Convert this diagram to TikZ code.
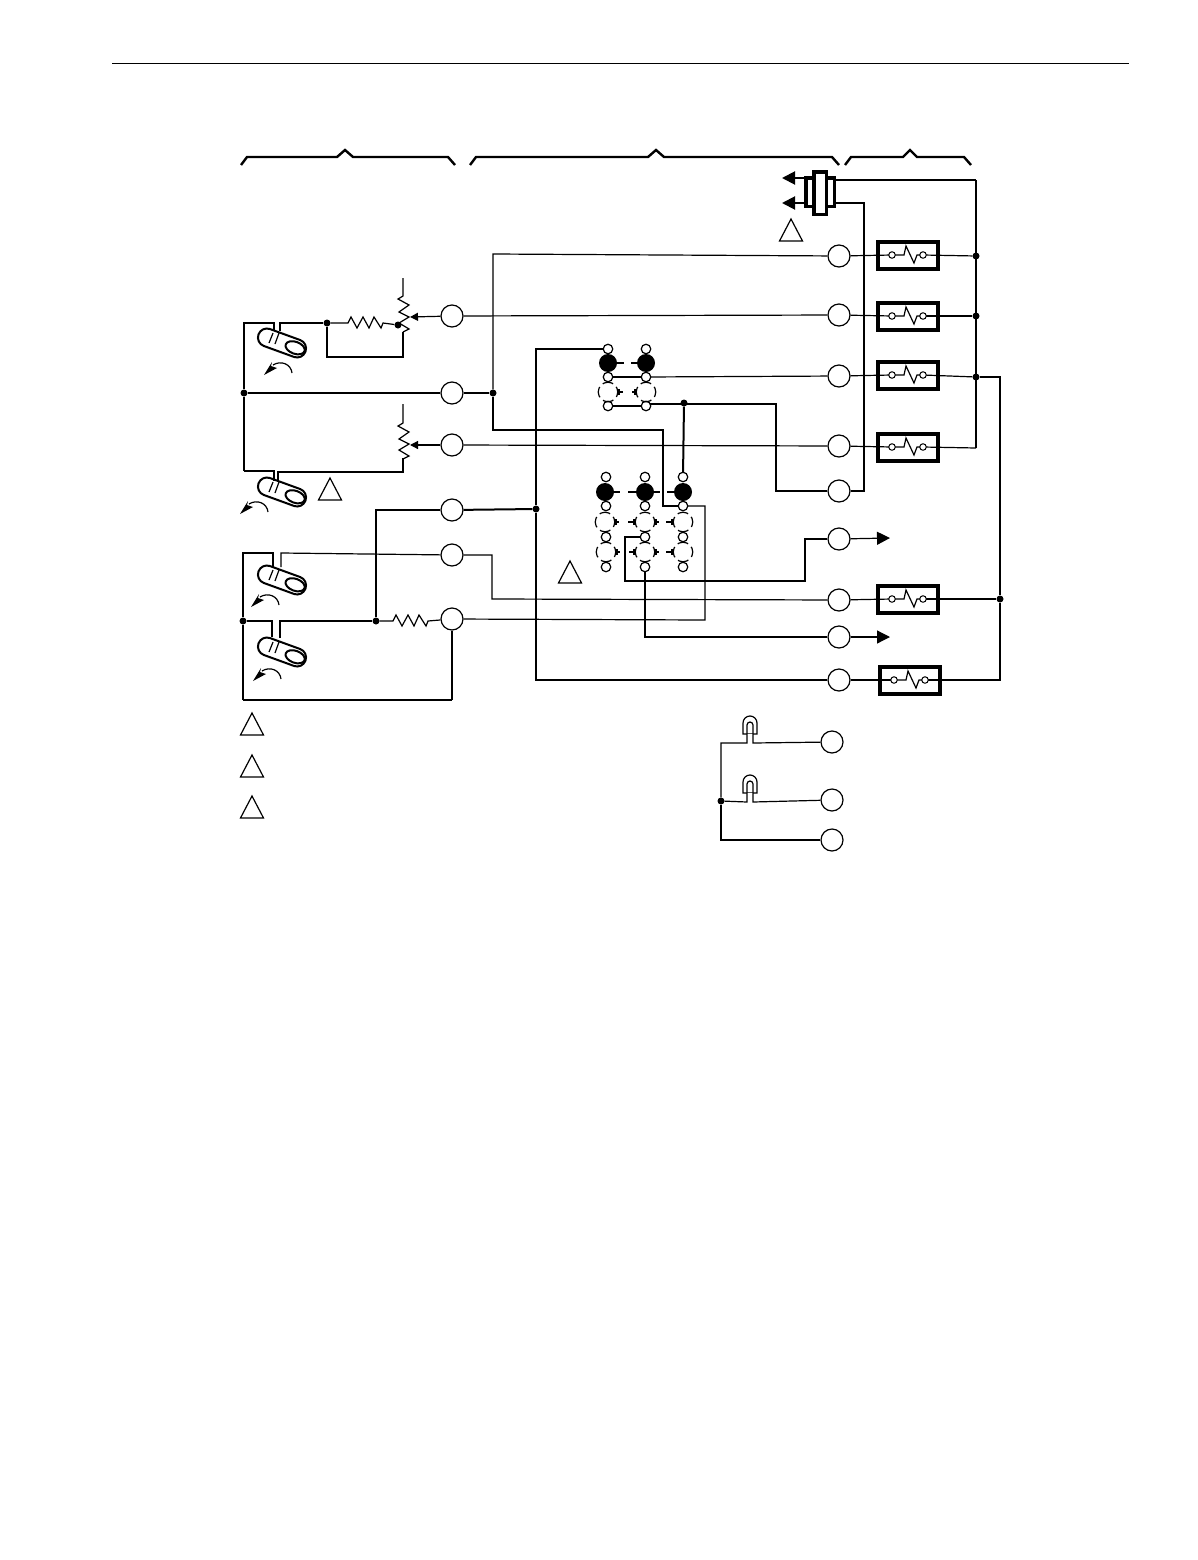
\documentclass[tikz,border=0pt]{standalone}
\usepackage{tikz}
\usetikzlibrary{arrows.meta, positioning}
\tikzset{>={Triangle[length=13pt,width=13pt]}}
\tikzset{
  wire/.style={line width=1.2pt},
  hvy/.style={line width=2pt},
  term/.style={draw, circle, fill=white, line width=1.2pt, minimum size=22pt, inner sep=0pt},
  dotj/.style={fill=black, circle, minimum size=7pt, inner sep=0pt},
  fuse/.style={draw, line width=4pt, minimum width=60pt, minimum height=27pt, inner sep=0pt},
  pin/.style={draw, circle, fill=white, line width=1pt, minimum size=6.5pt, inner sep=0pt},
  small/.style={draw, circle, fill=white, line width=1.2pt, minimum size=9.5pt, inner sep=0pt},
  big/.style={fill=black, circle, minimum size=18pt, inner sep=0pt},
  open/.style={draw, circle, line width=1.2pt, minimum size=19.5pt, inner sep=0pt, dash pattern=on 11pt off 4.3pt, dash phase=5.5pt},
  stub/.style={{Bar[width=6pt,length=1pt]}-, line width=2pt},
  stubthin/.style={{Bar[width=6pt,length=1pt]}-, line width=1.2pt},
  capsule/.pic={
    \draw [line width=2pt, rotate=-20, rounded corners=8.9pt] (-25,-9) rectangle (25,9);
    \draw [line width=2pt, rotate=-20] (14,0) ellipse (10 and 6);
    \draw [line width=1.2pt] (-13,0) -- (-9,-10);
    \draw [line width=1.2pt] (-7,1) -- (-3,-10);
  },
  turn/.pic={
    \fill (0,0) -- (8,-13) -- (7,-9) -- (13,-7) -- cycle;
    \draw [line width=1.2pt] (28,-2) .. controls (27,-11) and (17,-15) .. (9,-10);
  },
  warn/.pic={
    \draw [line width=1.2pt, line join=miter] (0,0) -- (11.5,22) -- (-11.5,22) -- cycle;
  },
  bulb/.pic={
    \draw [line width=1.2pt] (-7,-9) -- (-7,-20) arc [start angle=180, end angle=360, radius=7] -- (7,-9) -- cycle;
    \fill [white] (-3,-1) rectangle (3,-9);
  },
}
\newcommand{\kink}[2]{\draw [wire] (#1) -- ++(12,0) -- ++(2,-9) -- ++(8,17) -- ++(3,-8) -- (#2);}
\newcommand{\zigh}{-- ++(3,-6) -- ++(6,11) -- ++(6,-11) -- ++(6,11) -- ++(5,-11) -- ++(7,11) -- ++(2,-5)}
\newcommand{\zigv}{-- ++(-5,3) -- ++(11,6) -- ++(-10,7) -- ++(10,5) -- ++(-10,6) -- ++(10,6) -- ++(-6,3)}
\begin{document}
\begin{tikzpicture}[x=1pt, y=-1pt]
    \useasboundingbox (0,0) rectangle (1198,1560);
    \coordinate (ruleL) at (112,64);
    \coordinate (ruleR) at (1129,64);
    \draw [line width=1pt] (ruleL) -- (ruleR);

    % brackets
    \draw [line width=2.4pt] (241,165) -- (247,157) -- (337,157) -- (345,150) -- (353,157) -- (448,157) -- (455,165);
    \draw [line width=2.4pt] (470,165) -- (476,157) -- (648,157) -- (656,150) -- (664,157) -- (832,157) -- (839,165);
    \draw [line width=2.4pt] (845,165) -- (851,157) -- (903,157) -- (910,150) -- (917,157) -- (964,157) -- (971,165);

    % terminals
    \node (la) [term] at (452,316) {};
    \node (lb) [term] at (452,393) {};
    \node (lc) [term] at (452,445) {};
    \node (ld) [term] at (452,510) {};
    \node (le) [term] at (452,555) {};
    \node (lf) [term] at (452,619) {};
    \node (ra) [term] at (839,256) {};
    \node (rb) [term] at (839,315) {};
    \node (rc) [term] at (839,376) {};
    \node (rd) [term] at (839,446) {};
    \node (re) [term] at (839,491) {};
    \node (rf) [term] at (839,539) {};
    \node (rg) [term] at (839,600) {};
    \node (rh) [term] at (839,637) {};
    \node (ri) [term] at (839,680) {};
    \node (ba) [term] at (832,742) {};
    \node (bb) [term] at (832,800) {};
    \node (bc) [term] at (832,840) {};

    % junctions
    \node (na) [dotj] at (976,256) {};
    \node (nb) [dotj] at (976,316) {};
    \node (nc) [dotj] at (976,377) {};
    \node (nd) [dotj] at (1000,599) {};
    \node (ne) [dotj] at (493,393) {};
    \node (nf) [dotj] at (244,393) {};
    \node (ng) [dotj] at (536,509) {};
    \node (nh) [dotj] at (376,621) {};
    \node (ni) [dotj] at (243,621) {};
    \node (nj) [dotj] at (684,403) {};
    \node (nk) [dotj] at (327,323) {};
    \node (nl) [dotj] at (398,325) {};
    \node (nm) [dotj] at (721,801) {};

    % relays
    \node (fa) [fuse] at (907.5,255) {};
    \node (fb) [fuse] at (907.5,316) {};
    \node (fc) [fuse] at (907.5,375) {};
    \node (fd) [fuse] at (907.5,447) {};
    \node (fe) [fuse] at (907.5,599) {};
    \node (ff) [fuse] at (909.5,680) {};
    \coordinate (faL) at (892,255);
    \coordinate (fbL) at (892,316);
    \coordinate (fcL) at (892,375);
    \coordinate (fdL) at (892,447);
    \coordinate (feL) at (892,599);
    \coordinate (ffL) at (894,680);
    \coordinate (faR) at (923,255);
    \coordinate (fbR) at (923,316);
    \coordinate (fcR) at (923,375);
    \coordinate (fdR) at (923,447);
    \coordinate (feR) at (923,599);
    \coordinate (ffR) at (925,680);
    \draw [wire] (ra) -- (faL);
    \draw [wire] (rb) -- (fbL);
    \draw [wire] (rc) -- (fcL);
    \draw [wire] (rd) -- (fdL);
    \draw [wire] (rg) -- (feL);
    \draw [wire] (ri) -- (ffL);
    \draw [wire] (faR) -- (na);
    \draw [wire] (fbR) -- (nb);
    \draw [wire] (fcR) -- (nc);
    \draw [wire] (fdR) -- (976,448);
    \draw [wire] (feR) -- (nd);
    \draw [wire] (ffR) -- (1000,680) -- (nd);
    \kink{faL}{faR}
    \kink{fbL}{fbR}
    \kink{fcL}{fcR}
    \kink{fdL}{fdR}
    \kink{feL}{feR}
    \kink{ffL}{ffR}
    \node (fa1) [pin] at (faL) {};
    \node (fb1) [pin] at (fbL) {};
    \node (fc1) [pin] at (fcL) {};
    \node (fd1) [pin] at (fdL) {};
    \node (fe1) [pin] at (feL) {};
    \node (ff1) [pin] at (ffL) {};
    \node (fa2) [pin] at (faR) {};
    \node (fb2) [pin] at (fbR) {};
    \node (fc2) [pin] at (fcR) {};
    \node (fd2) [pin] at (fdR) {};
    \node (fe2) [pin] at (feR) {};
    \node (ff2) [pin] at (ffR) {};
    \draw [wire] (nc) -- (1000,377) -- (nd);

    % capacitor at the top
    \node (capb) [draw, line width=3.5pt, minimum width=28.5pt, minimum height=28.5pt, inner sep=0pt] at (820,192) {};
    \node (capa) [draw, fill=white, line width=3.5pt, minimum width=12.5pt, minimum height=42.5pt, inner sep=0pt] at (820,193) {};
    \coordinate (capt) at (836,180);
    \coordinate (capm) at (836,203);
    \coordinate (capu) at (804,178);
    \coordinate (capd) at (804,203);
    \coordinate (arru) at (782,178);
    \coordinate (arrd) at (782,203);
    \draw [hvy, ->] (capu) -- (arru);
    \draw [hvy, ->] (capd) -- (arrd);
    \draw [wire] (capt) -- (976,180);
    \draw [hvy] (976,180) -- (976,448);
    \draw [wire] (capm) -- (864,203) -- (864,491) -- (re);

    % left side
    \coordinate (sa1) at (274,331);
    \coordinate (sa2) at (280,331);
    \coordinate (sb1) at (274,481);
    \coordinate (sb2) at (278,481);
    \coordinate (sc1) at (273,567);
    \coordinate (sc2) at (281,567);
    \coordinate (sd1) at (272,637);
    \coordinate (sd2) at (280,638);
    \draw [wire] (nf) |- (274,323) -- (sa1);
    \draw [wire] (sa2) -- (280,323) -- (nk);
    \draw [hvy] (lb) -- (nf);
    \draw [wire] (nf) -- (244,471);
    \draw [hvy] (244,471) -- (274,471) -- (sb1);
    \draw [wire] (sb2) -- (278,472) -- (403,472) -- (403,458);
    \draw [wire] (ni) -- (243,553) -- (273,553) -- (sc1);
    \draw [wire] (sc2) -- (281,553) -- (le);
    \draw [wire] (ni) -- (272,621) -- (sd1);
    \draw [wire] (sd2) -- (280,621) -- (nh);
    \draw [wire] (ni) -- (243,700);
    \draw [hvy] (243,700) -- (452,700);
    \draw [wire] (452,700) -- (lf);
    \draw [wire] (nh) -- (376,510) -- (ld);
    \draw [wire] (nh) -- (393,621) \zigh{} -- (lf);
    \draw [wire] (nk) -- (348,323) \zigh{} -- (nl);
    \draw [wire] (nk) -- (327,357) -- (403,357) -- (403,332);
    \draw [wire] (403,278) -- (403,296) \zigv{};
    \draw [wire] (403,404) -- (403,423) \zigv{} -- (403,471);
    \coordinate (wipa) at (410,317);
    \coordinate (wipb) at (410,445);
    \draw [wire, -{Triangle[length=8pt,width=8pt]}] (la) -- (wipa);
    \draw [wire, -{Triangle[length=8pt,width=8pt]}] (lc) -- (wipb);

    % switches
    \pic at (282,343) {capsule};
    \pic at (282,492) {capsule};
    \pic at (282,580) {capsule};
    \pic at (282,652) {capsule};
    \pic at (264,375) {turn};
    \pic at (240,514) {turn};
    \pic at (251,607) {turn};
    \pic at (253,681) {turn};

    % warning marks
    \pic at (791,219) {warn};
    \pic at (330,478) {warn};
    \pic at (570,561) {warn};
    \pic at (252,713) {warn};
    \pic at (252,755) {warn};
    \pic at (252,796) {warn};

    % wires through the middle
    \draw [wire] (la) -- (rb);
    \draw [wire] (lc) -- (rd);
    \draw [wire] (lb) -- (ne);
    \draw [wire] (ra) -- (493,254) -- (ne);
    \draw [wire] (ne) |- (663,430) -- (663,506) -- (683,506);
    \draw [hvy] (ld) -- (ng);
    \draw [wire] (608,349) -| (ng);
    \draw [wire] (ng) |- (ri);
    \draw [wire] (646,377) -- (rc);
    \draw [wire] (608,377) -- (646,377);
    \draw [wire] (608,406) -- (646,406);
    \draw [wire] (646,404) -- (776,404) -- (776,491) -- (re);
    \draw [hvy] (nj) -- (683,477);
    \draw [wire] (683,506) -- (705,506) -- (705,620) -- (lf);
    \draw [wire] (645,537) -- (625,537) -- (625,581) -- (805,581) -- (805,539) -- (rf);
    \draw [wire] (645,567) -- (645,637) -- (rh);
    \draw [wire] (le) -- (492,555) -- (492,599) -- (rg);

    % contact blocks
    \node (pa) [small] at (608,349) {};
    \node (pd) [small] at (608,377) {};
    \node (pe) [small] at (608,406) {};
    \node (qa) [small] at (646,349) {};
    \node (qd) [small] at (646,377) {};
    \node (qe) [small] at (646,406) {};
    \node (ua) [small] at (606,477) {};
    \node (ue) [small] at (606,506) {};
    \node (uf) [small] at (606,537) {};
    \node (ug) [small] at (606,567) {};
    \node (va) [small] at (645,477) {};
    \node (ve) [small] at (645,506) {};
    \node (vf) [small] at (645,537) {};
    \node (vg) [small] at (645,567) {};
    \node (wa) [small] at (683,477) {};
    \node (we) [small] at (683,506) {};
    \node (wf) [small] at (683,537) {};
    \node (wg) [small] at (683,567) {};
    \node (pb) [big] at (608,363) {};
    \node (pc) [open] at (608,392) {};
    \node (qb) [big] at (646,363) {};
    \node (qc) [open] at (646,392) {};
    \node (ub) [big] at (605,492) {};
    \node (uc) [open] at (605,522) {};
    \node (ud) [open] at (606,552) {};
    \node (vb) [big] at (645,492) {};
    \node (vc) [open] at (645,522) {};
    \node (vd) [open] at (645,552) {};
    \node (wb) [big] at (683,492) {};
    \node (wc) [open] at (683,522) {};
    \node (wd) [open] at (683,552) {};

    \draw [hvy] (pb.east) -- ++(7,0);
    \draw [hvy] (qb.west) -- ++(-6,0);
    \draw [stubthin] (pc.east) -- ++(5,0);
    \draw [stubthin] (qc.west) -- ++(-4,0);
    \draw [hvy] (ub.east) -- ++(6,0);
    \draw [hvy] (vb.west) -- ++(-8,0);
    \draw [hvy] (vb.east) -- ++(6,0);
    \draw [hvy] (wb.west) -- ++(-7,0);
    \draw [stub] (uc.east) -- ++(4,0);
    \draw [stub] (vc.west) -- ++(-7,0);
    \draw [stub] (vc.east) -- ++(4,0);
    \draw [stub] (wc.west) -- ++(-7,0);
    \draw [stubthin] (ud.east) -- ++(4,0);
    \draw [stubthin] (vd.west) -- ++(-6,0);
    \draw [stub] (vd.east) -- ++(4,0);
    \draw [stub] (wd.west) -- ++(-7,0);

    % outputs
    \coordinate (outa) at (890,538);
    \coordinate (outb) at (890,637);
    \draw [wire, ->] (rf) -- (outa);
    \draw [wire, ->] (rh) -- (outb);

    % lamps
    \pic at (750,743) {bulb};
    \pic at (750,802) {bulb};
    \coordinate (ua1) at (747,725);
    \coordinate (ua2) at (753,725);
    \coordinate (ub1) at (747,784);
    \coordinate (ub2) at (753,784);
    \draw [wire] (nm) -- (721,743) -- (747,743) -- (ua1) arc [start angle=180, end angle=360, radius=3] -- (753,743) -- (ba);
    \draw [wire] (nm) -- (747,802) -- (ub1) arc [start angle=180, end angle=360, radius=3] -- (753,802) -- (bb);
    \draw [wire] (nm) |- (bc);
\end{tikzpicture}
\end{document}
